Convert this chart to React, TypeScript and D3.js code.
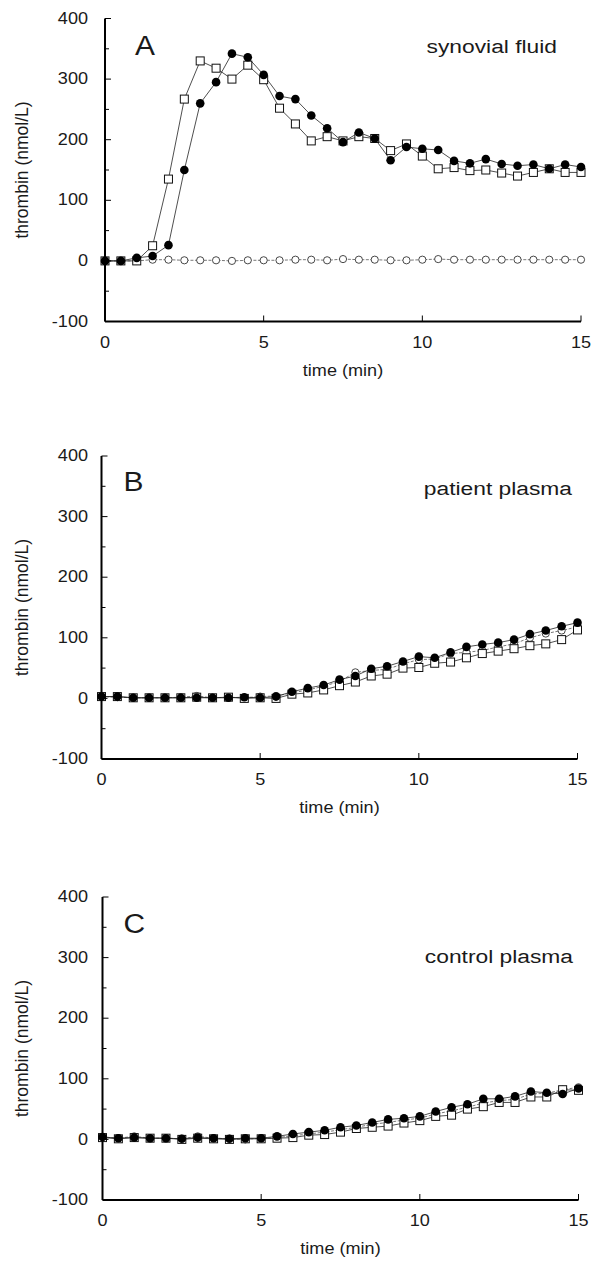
import * as d3 from 'd3';

const times = [0, 0.5, 1, 1.5, 2, 2.5, 3, 3.5, 4, 4.5, 5, 5.5, 6, 6.5, 7, 7.5, 8, 8.5, 9, 9.5, 10, 10.5, 11, 11.5, 12, 12.5, 13, 13.5, 14, 14.5, 15];

// panel A - synovial fluid
const aFilled = [0, 0, 5, 8, 26, 150, 260, 295, 342, 336, 307, 272, 267, 240, 219, 196, 212, 202, 166, 188, 185, 183, 165, 161, 168, 160, 157, 159, 152, 159, 155];
const aSquare = [0, 0, 0, 25, 135, 267, 330, 318, 300, 323, 299, 252, 226, 198, 205, 198, 205, 202, 182, 193, 173, 152, 154, 149, 150, 145, 140, 146, 152, 146, 146];
const aOpen = [0, 0, 0, 2, 2, 1, 1, 1, 0, 1, 1, 1, 2, 2, 1, 3, 2, 2, 1, 1, 2, 3, 2, 2, 2, 2, 2, 2, 2, 2, 2];

// panel B - patient plasma
const bFilled = [3, 3, 1, 1, 1, 1, 1, 1, 1, 2, 1, 3, 11, 17, 22, 31, 37, 49, 53, 61, 69, 67, 76, 85, 89, 92, 97, 106, 112, 119, 125];
const bSquare = [3, 3, 1, 1, 1, 1, 2, 1, 2, 0, 1, 0, 7, 9, 14, 21, 27, 37, 40, 50, 51, 58, 60, 67, 74, 78, 82, 87, 90, 97, 113];
const bOpen = [3, 2, 1, 1, 1, 2, 4, 1, 2, 1, 3, 4, 9, 14, 20, 28, 43, 46, 48, 57, 64, 65, 74, 76, 79, 85, 90, 100, 107, 112, 118];

// panel C - control plasma
const cFilled = [4, 2, 3, 2, 2, 1, 3, 2, 1, 2, 2, 5, 9, 12, 15, 20, 23, 28, 33, 35, 38, 46, 53, 58, 67, 67, 71, 79, 77, 75, 84];
const cSquare = [3, 1, 3, 2, 2, 0, 2, 1, 0, 1, 1, 2, 3, 7, 8, 12, 18, 20, 22, 27, 31, 38, 40, 50, 54, 61, 61, 70, 70, 82, 81];
const cOpen = [4, 2, 5, 2, 2, 1, 5, 2, 1, 0, 2, 3, 6, 9, 12, 16, 20, 25, 28, 32, 35, 42, 47, 53, 60, 64, 66, 75, 76, 82, 86];

const letters = ['A', 'B', 'C'];
const titles = ['synovial fluid', 'patient plasma', 'control plasma'];
const yTicks = [-100, 0, 100, 200, 300, 400];
const yMinor = [-50, 50, 150, 250, 350];
const xTicks = [0, 5, 10, 15];

const panels = [
  { filled: aFilled, square: aSquare, open: aOpen, top: 18.5, left: 105, letter: [30, 27], title: [557, 28] },
  { filled: bFilled, square: bSquare, open: bOpen, top: 456, left: 101.5, letter: [22, 25], title: [572, 32] },
  { filled: cFilled, square: cSquare, open: cOpen, top: 897, left: 102.5, letter: [21, 26], title: [573, 59] },
];

const W = 476;
const H = 303;
const FONT = '"Liberation Sans", Arial, sans-serif';
const INK = '#1a1a1a';

function Panel({ p, i }) {
  const x = d3.scaleLinear().domain([0, 15]).range([p.left, p.left + W]);
  const y = d3.scaleLinear().domain([-100, 400]).range([p.top + H, p.top]);
  const line = (vals) => d3.line<number>().x((_, k) => x(times[k])).y((v) => y(v))(vals) || '';
  const bottom = p.top + H;

  return (
    <g>
      {/* series lines */}
      <path d={line(p.open)} fill="none" stroke="#555" strokeWidth={0.8} strokeDasharray="3,1.5" />
      <path d={line(p.square)} fill="none" stroke="#222" strokeWidth={0.8} />
      <path d={line(p.filled)} fill="none" stroke="#222" strokeWidth={0.8} />

      {p.open.map((v, k) => (
        <circle key={'o' + k} cx={x(times[k])} cy={y(v)} r={3.6} fill="white" stroke="#333" strokeWidth={0.9} />
      ))}
      {p.square.map((v, k) => (
        <rect key={'s' + k} x={x(times[k]) - 4} y={y(v) - 4} width={8} height={8} fill="white" stroke="#111" strokeWidth={1} />
      ))}
      {p.filled.map((v, k) => (
        <circle key={'f' + k} cx={x(times[k])} cy={y(v)} r={4.3} fill="#000" />
      ))}

      {/* axes */}
      <line x1={p.left} x2={p.left} y1={p.top} y2={bottom} stroke="#000" strokeWidth={2} />
      <line x1={p.left} x2={p.left + W} y1={bottom} y2={bottom} stroke="#000" strokeWidth={2} />
      {yTicks.map((t) => (
        <line key={'yt' + t} x1={p.left} x2={p.left + 6} y1={y(t)} y2={y(t)} stroke="#000" strokeWidth={1} />
      ))}
      {yMinor.map((t) => (
        <line key={'ym' + t} x1={p.left} x2={p.left + 4} y1={y(t)} y2={y(t)} stroke="#000" strokeWidth={1} />
      ))}
      {xTicks.map((t) => (
        <line key={'xt' + t} x1={x(t)} x2={x(t)} y1={bottom} y2={bottom - 6} stroke="#000" strokeWidth={1} />
      ))}

      {yTicks.map((t) => (
        <text key={'yl' + t} transform={`translate(88,${y(t)}) scale(1.13,1)`} textAnchor="end" dominantBaseline="central"
          fontFamily={FONT} fontSize={16} fill={INK}>{t}</text>
      ))}
      {xTicks.map((t) => (
        <text key={'xl' + t} transform={`translate(${x(t)},${bottom + 21}) scale(1.13,1)`} textAnchor="middle" dominantBaseline="central"
          fontFamily={FONT} fontSize={16} fill={INK}>{t}</text>
      ))}
      <text transform={`translate(${p.left + W / 2},${bottom + 49}) scale(1.13,1)`} textAnchor="middle" dominantBaseline="central"
        fontFamily={FONT} fontSize={16} fill={INK}>time (min)</text>
      <text transform={`translate(22,${p.top + H / 2}) rotate(-90)`} textAnchor="middle" dominantBaseline="central"
        fontFamily={FONT} fontSize={17.5} fill={INK}>thrombin (nmol/L)</text>

      <text transform={`translate(${p.left + p.letter[0]},${p.top + p.letter[1]}) scale(1.07,1)`} dominantBaseline="central"
        fontFamily={FONT} fontSize={28} fill={INK}>{letters[i]}</text>
      <text transform={`translate(${p.title[0]},${p.top + p.title[1]}) scale(1.2,1)`} textAnchor="end" dominantBaseline="central"
        fontFamily={FONT} fontSize={19} fill={INK}>{titles[i]}</text>
    </g>
  );
}

export default function App() {
  return (
    <svg width={592} height={1261} style={{ position: 'absolute', left: 0, top: 0, background: 'white' }}>
      <rect width={592} height={1261} fill="white" />
      {panels.map((p, i) => <Panel key={i} p={p} i={i} />)}
    </svg>
  );
}
